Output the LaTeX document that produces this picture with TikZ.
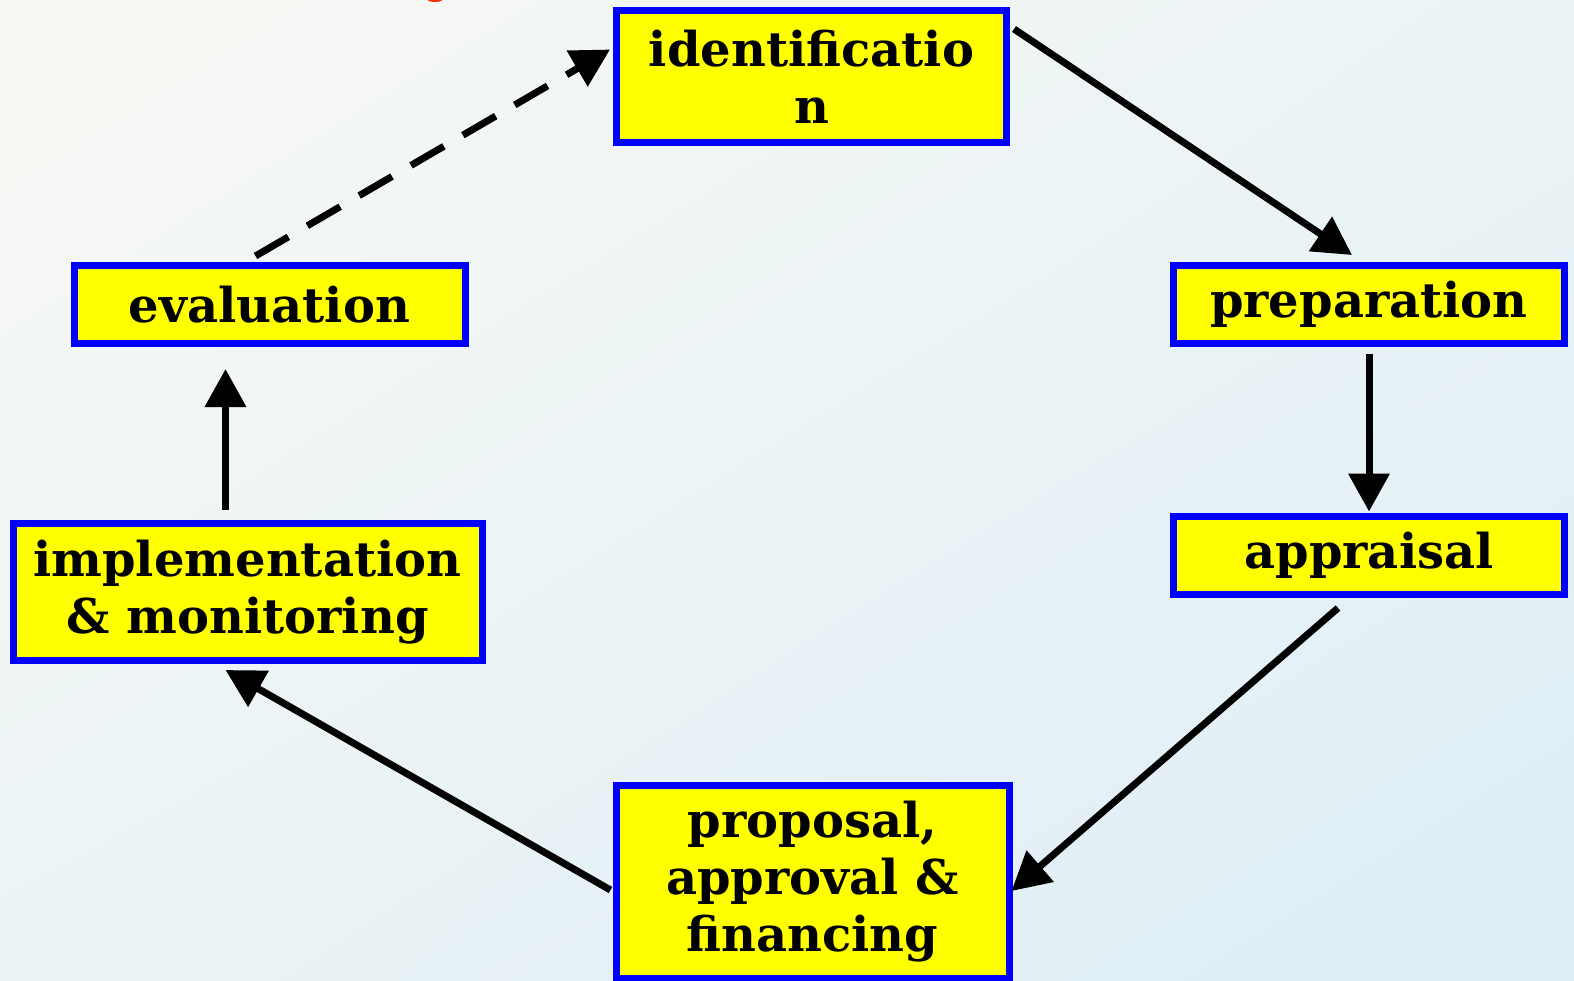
\documentclass[tikz,border=0pt]{standalone}
\usepackage{fontspec}
\setmainfont{DejaVu Serif}
\usetikzlibrary{arrows.meta,calc,shadings}
\definecolor{bgA}{HTML}{F8F9F4}
\definecolor{bgB}{HTML}{DDEEF7}
\definecolor{bgM}{HTML}{EBF3F5}
\definecolor{boxfill}{HTML}{FFFF00}
\definecolor{boxline}{HTML}{0000FF}
\definecolor{redmark}{HTML}{FF3300}
\tikzset{
  stage/.style={draw=boxline, fill=boxfill, line width=7pt, inner sep=0pt,
    align=center, text=black,
    font=\fontsize{48}{57}\selectfont\bfseries},
  flow/.style={line width=7pt, -{Triangle[length=38pt,width=40pt]}},
  flowdash/.style={flow, dash pattern=on 38pt off 22pt}
}
\begin{document}
\begin{tikzpicture}[x=1pt,y=-1pt]
  % background
  \shade[upper left=bgA, lower right=bgB, upper right=bgM, lower left=bgM]
    (0,0) rectangle (1574,980);
  \useasboundingbox (0,0) rectangle (1574,980);
  \fill[redmark] (435,0) ellipse (7 and 2);

  % stages
  \node[stage, minimum width=390pt, minimum height=132pt] (ident) at (811.5,76.5)
    {identificatio\\n};
  \node[stage, minimum width=391pt, minimum height=78pt] (prep) at (1369,304.5)
    {preparation};
  \node[stage, minimum width=391pt, minimum height=78pt] (appr) at (1369,555.5)
    {appraisal};
  \node[stage, minimum width=393pt, minimum height=193pt] (prop) at (812.5,882)
    {proposal,\\approval \&\\financing};
  \node[stage, minimum width=469pt, minimum height=137pt] (impl) at (247.5,592)
    {implementation\\\& monitoring};
  \node[stage, minimum width=391pt, minimum height=78pt] (eval) at (269.5,304.5)
    {evaluation};

  % cycle
  \draw[flow] ($(ident.north east)+(4,22)$) -- ($(prep.north)+(-17,-7)$);
  \draw[flow] ($(prep.south)+(0,6.5)$) -- ($(appr.north)+(0,-1.5)$);
  \draw[flow] ($(appr.south)+(-31,10)$) -- ($(prop.east)+(-1,9)$);
  \draw[flow] ($(prop.west)+(-2,8)$) -- ($(impl.south)+(-22,6)$);
  \draw[flow] ($(impl.north)+(-22,-10)$) -- ($(eval.south)+(-44,22)$);
  \draw[flowdash] ($(eval.north)+(-14,-6)$) -- ($(ident.west)+(-3,-27)$);
\end{tikzpicture}
\end{document}
